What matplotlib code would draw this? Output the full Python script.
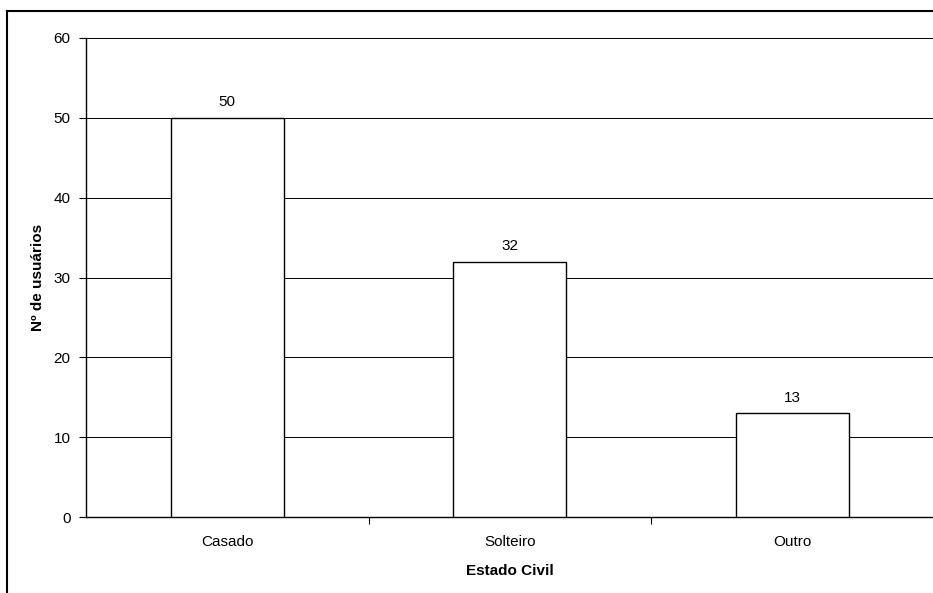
import matplotlib.pyplot as plt
from matplotlib.lines import Line2D

# dados
categorias = ['Casado', 'Solteiro', 'Outro']
usuarios = [50, 32, 13]
yticks = [0, 10, 20, 30, 40, 50, 60]

plt.rcParams['font.family'] = ['Liberation Sans', 'DejaVu Sans']

fig = plt.figure(figsize=(9.33, 5.93), dpi=100)
ax = fig.add_axes([0.0922, 0.128, 0.9083, 0.808])

x = list(range(len(categorias)))
ax.bar(x, usuarios, width=0.4, color='white', edgecolor='black', linewidth=1.0, zorder=3)
for xi, v in zip(x, usuarios):
    ax.annotate(str(v), (xi, v), xytext=(0, 6), textcoords='offset points',
                ha='center', va='bottom', fontsize=11)

ax.set_xlim(-0.5, 2.5)
ax.set_ylim(0, 60)
ax.set_yticks(yticks)
ax.yaxis.grid(True, color='black', linewidth=0.7, zorder=0)
ax.set_axisbelow(True)

# categorias no centro, ticks nos limites
ax.set_xticks(x)
ax.set_xticklabels(categorias, fontsize=11)
ax.tick_params(axis='x', length=0, pad=13)
ax.set_xticks([0.5, 1.5], minor=True)
ax.tick_params(axis='x', which='minor', length=5, width=0.8, direction='out')
ax.tick_params(axis='y', length=5, width=0.8, direction='out', labelsize=11, pad=6)

for s in ['top', 'right']:
    ax.spines[s].set_visible(False)
ax.spines['left'].set_linewidth(1.0)
ax.spines['bottom'].set_linewidth(1.0)

ax.set_xlabel('Estado Civil', fontsize=11, fontweight='bold', labelpad=11)
ax.set_ylabel('Nº de usuários', fontsize=11, fontweight='bold', labelpad=6)

# borda externa (recortada)
fig.add_artist(Line2D([7.5 / 933, 7.5 / 933], [0, 1 - 10.5 / 593], color='black', linewidth=1.5,
                      transform=fig.transFigure))
fig.add_artist(Line2D([7.5 / 933, 1], [1 - 10.5 / 593, 1 - 10.5 / 593], color='black', linewidth=1.5,
                      transform=fig.transFigure))

fig.savefig('out.png', dpi=100)
